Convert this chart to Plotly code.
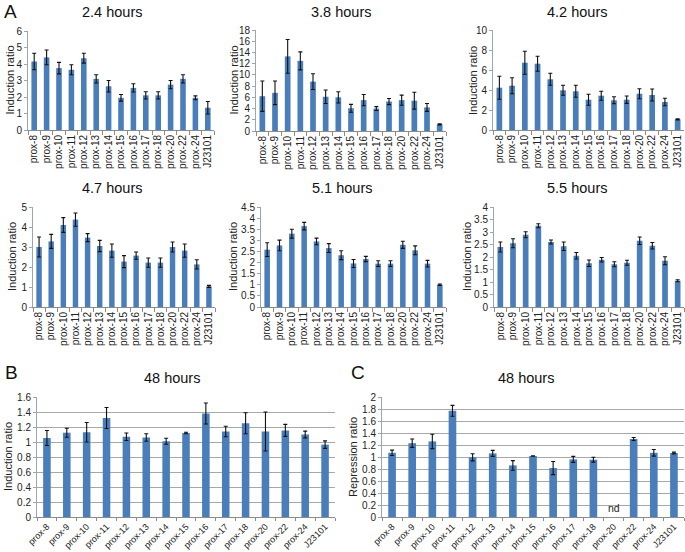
import plotly.graph_objects as go

W, H = 685, 552

categories = ["prox-8", "prox-9", "prox-10", "prox-11", "prox-12", "prox-13", "prox-14",
              "prox-15", "prox-16", "prox-17", "prox-18", "prox-20", "prox-22", "prox-24", "J23101"]

v_2_4 = [4.15, 4.4, 3.75, 3.65, 4.35, 3.1, 2.65, 1.95, 2.55, 2.1, 2.1, 2.75, 3.1, 1.95, 1.35]
e_2_4 = [0.5, 0.45, 0.35, 0.3, 0.3, 0.25, 0.35, 0.2, 0.25, 0.22, 0.22, 0.25, 0.25, 0.12, 0.38]

v_3_8 = [6.2, 6.8, 13.3, 12.5, 8.8, 6.1, 6.0, 4.05, 5.5, 4.0, 5.25, 5.5, 5.4, 4.2, 1.2]
e_3_8 = [2.7, 2.1, 3.0, 1.6, 1.4, 1.2, 1.0, 0.7, 1.0, 0.35, 0.55, 0.9, 1.5, 0.7, 0.1]

v_4_2 = [4.23, 4.43, 6.73, 6.63, 5.07, 3.97, 3.87, 3.03, 3.43, 2.97, 3.03, 3.63, 3.5, 2.8, 1.07]
e_4_2 = [1.15, 0.8, 1.15, 0.75, 0.6, 0.5, 0.6, 0.55, 0.45, 0.35, 0.37, 0.5, 0.6, 0.37, 0.06]

v_4_7 = [3.0, 3.28, 4.1, 4.37, 3.47, 3.05, 2.82, 2.27, 2.57, 2.22, 2.22, 3.0, 2.82, 2.13, 1.03]
e_4_7 = [0.5, 0.35, 0.37, 0.33, 0.2, 0.28, 0.33, 0.3, 0.18, 0.23, 0.23, 0.25, 0.33, 0.23, 0.05]

v_5_1 = [2.58, 2.77, 3.3, 3.64, 2.95, 2.65, 2.33, 1.96, 2.16, 1.95, 1.95, 2.8, 2.55, 1.95, 1.0]
e_5_1 = [0.31, 0.24, 0.2, 0.17, 0.15, 0.2, 0.2, 0.18, 0.12, 0.13, 0.13, 0.16, 0.2, 0.15, 0.03]

v_5_5 = [2.4, 2.55, 2.89, 3.25, 2.6, 2.43, 2.05, 1.75, 1.89, 1.71, 1.77, 2.65, 2.45, 1.85, 1.05]
e_5_5 = [0.2, 0.18, 0.12, 0.08, 0.08, 0.17, 0.13, 0.13, 0.09, 0.1, 0.1, 0.15, 0.13, 0.16, 0.04]

v_48_ind = [1.053, 1.124, 1.13, 1.32, 1.07, 1.06, 1.01, 1.12, 1.38, 1.14, 1.25, 1.14, 1.155, 1.1, 0.965]
e_48_ind = [0.1, 0.06, 0.13, 0.14, 0.05, 0.05, 0.04, 0.01, 0.14, 0.07, 0.14, 0.26, 0.08, 0.045, 0.05]

v_48_rep = [1.07, 1.23, 1.26, 1.77, 0.995, 1.06, 0.86, 1.017, 0.816, 0.96, 0.955, None, 1.3, 1.07, 1.067]
e_48_rep = [0.045, 0.07, 0.12, 0.09, 0.06, 0.05, 0.08, 0.005, 0.11, 0.05, 0.04, 0, 0.025, 0.055, 0.015]

titles = ["2.4 hours", "3.8 hours", "4.2 hours", "4.7 hours", "5.1 hours", "5.5 hours", "48 hours", "48 hours"]
y_titles = ["Induction ratio"] * 7 + ["Repression ratio"]
series = [(v_2_4, e_2_4), (v_3_8, e_3_8), (v_4_2, e_4_2), (v_4_7, e_4_7),
          (v_5_1, e_5_1), (v_5_5, e_5_5), (v_48_ind, e_48_ind), (v_48_rep, e_48_rep)]
y_max = [6, 18, 10, 5, 4.5, 4, 1.6, 2]
y_dtick = [1, 2, 2, 1, 0.5, 0.5, 0.2, 0.2]

# layout boxes in pixels: (left, right, top, bottom)
boxes = [(28, 214, 31, 130), (256, 446, 30, 131), (493, 684, 30, 130),
         (33, 215, 207, 307), (261, 446, 207, 307), (494, 684, 207, 307),
         (37, 335, 397, 517), (382, 684, 397, 517)]
title_pos = [(112, 12), (341, 12), (577, 12), (112, 188), (342, 188), (577, 188), (172, 378), (526, 378)]
ytitle_x = [9, 233, 473, 12, 233, 467, 8, 353]

BAR = "#4a7ebb"
FONT = "Arial, Liberation Sans, sans-serif"

def px(x):
    return x / W

def py(y):
    return 1 - y / H

fig = go.Figure()
annotations = []
layout = {}
for i, ((vals, errs), box) in enumerate(zip(series, boxes)):
    n = i + 1
    sfx = "" if n == 1 else str(n)
    bottom_row = i >= 6
    fig.add_trace(go.Bar(
        x=categories, y=vals, width=0.38 if bottom_row else 0.45,
        error_y=dict(type="data", array=errs, color="#111", thickness=1.1, width=2),
        marker=dict(color=BAR, line=dict(width=0)),
        xaxis="x" + sfx, yaxis="y" + sfx, showlegend=False,
    ))
    l, r, t, b = box
    layout["xaxis" + sfx] = dict(
        domain=[px(l), px(r)], anchor="y" + sfx, automargin=False,
        type="category", categoryorder="array", categoryarray=categories,
        tickmode="array", tickvals=categories, ticktext=categories,
        showline=True, linecolor="#8c8c8c", linewidth=1,
        ticks="outside", tickson="boundaries", ticklen=3 if bottom_row else 4, tickcolor="#8c8c8c",
        tickangle=-45 if bottom_row else -90,
        tickfont=dict(size=9 if bottom_row else 10, color="#222", family=FONT),
        showgrid=False, fixedrange=True,
    )
    layout["yaxis" + sfx] = dict(
        domain=[py(b), py(t)], anchor="x" + sfx, automargin=False,
        range=[0, y_max[i]], dtick=y_dtick[i], tick0=0,
        showline=True, linecolor="#9aa6b8", linewidth=1,
        ticks="outside", ticklen=3, tickcolor="#9aa6b8",
        tickfont=dict(size=10, color="#222", family=FONT),
        showgrid=bottom_row, gridcolor="#a8a8a8", gridwidth=1,
        zeroline=False, fixedrange=True,
    )
    tx, ty = title_pos[i]
    annotations.append(dict(text=titles[i], x=px(tx), y=py(ty), xref="paper", yref="paper",
                            showarrow=False, font=dict(size=14.5, color="#111", family=FONT),
                            xanchor="center", yanchor="middle"))
    annotations.append(dict(text=y_titles[i], x=px(ytitle_x[i]), y=py((t + b) / 2),
                            xref="paper", yref="paper", textangle=-90, showarrow=False,
                            font=dict(size=11, color="#222", family=FONT),
                            xanchor="center", yanchor="middle"))

# "nd" marker for prox-20 in panel C
annotations.append(dict(text="nd", x="prox-20", y=0.15, xref="x8", yref="y8", showarrow=False,
                        font=dict(size=10.5, color="#222", family=FONT)))

for letter, (lx, ly) in zip(["A", "B", "C"], [(10, 12), (11, 372), (358, 372)]):
    annotations.append(dict(text=letter, x=px(lx), y=py(ly), xref="paper", yref="paper",
                            showarrow=False, font=dict(size=19, color="#111", family=FONT),
                            xanchor="center", yanchor="middle"))

fig.update_layout(
    width=W, height=H, margin=dict(l=0, r=0, t=0, b=0, autoexpand=False),
    paper_bgcolor="white", plot_bgcolor="white",
    annotations=annotations, font=dict(family=FONT),
    **layout,
)

fig.write_html("out.html", config={"displayModeBar": False},
               post_script="document.body.style.margin='0';document.body.style.overflow='hidden';")
